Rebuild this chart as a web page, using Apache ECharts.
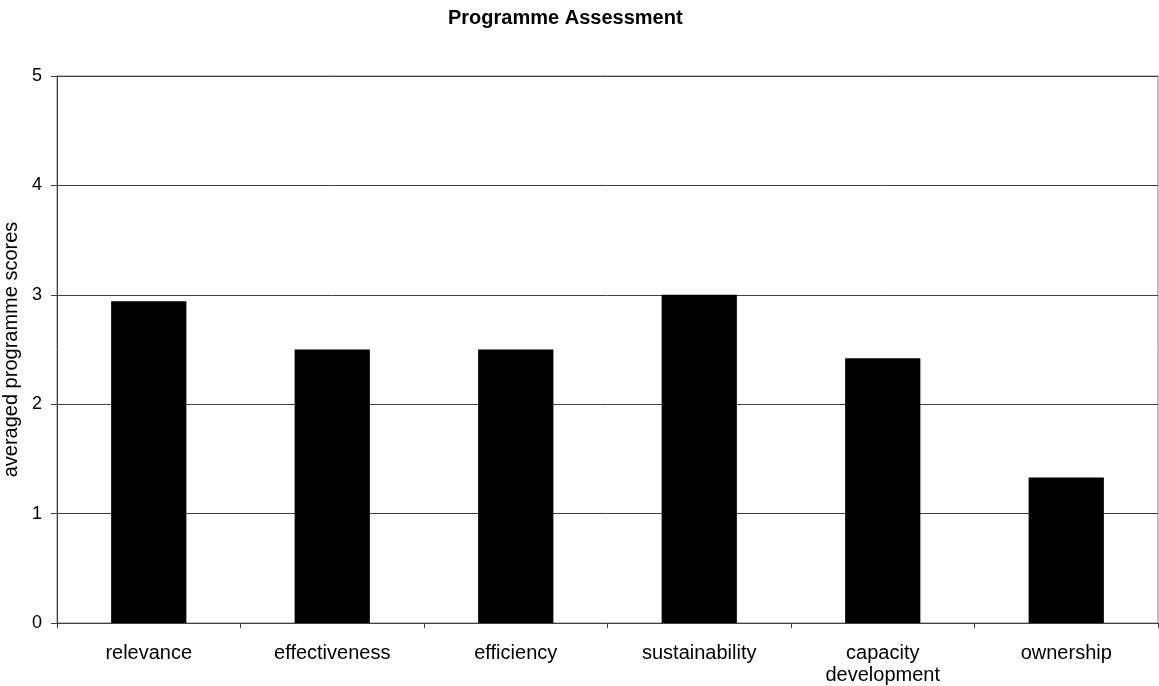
<!DOCTYPE html>
<html>
<head>
<meta charset="utf-8">
<script src="https://cdn.jsdelivr.net/npm/echarts@6/dist/echarts.min.js"></script>
<style>
html, body { margin: 0; padding: 0; background: #fff; }
#chart { width: 1159px; height: 686px; }
</style>
</head>
<body>
<div id="chart"></div>
<script>
const categories = ['relevance', 'effectiveness', 'efficiency', 'sustainability', 'capacity\ndevelopment', 'ownership'];
const scores = [2.94, 2.5, 2.5, 3.0, 2.42, 1.33];
const yTicks = [0, 1, 2, 3, 4, 5];

const chart = echarts.init(document.getElementById('chart'));
chart.setOption({
    animation: false,
    textStyle: { fontFamily: 'Liberation Sans, Arial, sans-serif', color: '#000' },
    title: {
        text: 'Programme Assessment',
        left: 443,
        top: 3,
        textStyle: { fontSize: 20, fontWeight: 'bold', color: '#000', fontFamily: 'Liberation Sans, Arial, sans-serif' }
    },
    grid: {
        left: 57, right: 1, top: 76, bottom: 63,
        containLabel: false, outerBoundsMode: 'none',
        show: true, borderColor: '#808080', borderWidth: 1
    },
    xAxis: {
        type: 'category',
        data: categories,
        axisLine: { lineStyle: { color: '#404040', width: 1 } },
        axisTick: { show: true, length: 5, lineStyle: { color: '#404040' } },
        axisLabel: { fontSize: 20, color: '#000', margin: 19, lineHeight: 22 },
        splitLine: { show: false }
    },
    yAxis: {
        type: 'value',
        min: yTicks[0],
        max: yTicks[yTicks.length - 1],
        interval: 1,
        name: 'averaged programme scores',
        nameLocation: 'middle',
        nameGap: 35,
        nameTextStyle: { fontSize: 20, color: '#000' },
        axisLine: { show: true, lineStyle: { color: '#404040', width: 1 } },
        axisTick: { show: true, length: 6, lineStyle: { color: '#404040' } },
        axisLabel: { fontSize: 18, color: '#000', margin: 15 },
        splitLine: { show: true, lineStyle: { color: '#404040', width: 1 } }
    },
    series: [{
        type: 'bar',
        data: scores,
        barWidth: '41%',
        itemStyle: { color: '#000' }
    }]
});
</script>
</body>
</html>
